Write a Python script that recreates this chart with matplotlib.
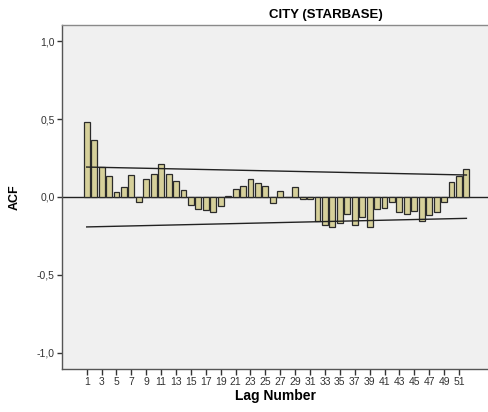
import matplotlib
matplotlib.use("Agg")
import matplotlib.pyplot as plt
from matplotlib.ticker import FuncFormatter

plt.rcParams["font.family"] = ["Liberation Sans", "DejaVu Sans"]

# autocorrelations per lag
lags = list(range(1, 53))
acf = [0.481, 0.365, 0.192, 0.132, 0.034, 0.062, 0.139, -0.030, 0.113, 0.150,
       0.209, 0.150, 0.105, 0.047, -0.049, -0.077, -0.081, -0.098, -0.060, 0.006,
       0.051, 0.068, 0.115, 0.090, 0.068, -0.038, 0.040, 0.002, 0.066, -0.015,
       -0.013, -0.156, -0.179, -0.190, -0.167, -0.111, -0.179, -0.126, -0.194, -0.077,
       -0.071, -0.034, -0.096, -0.107, -0.090, -0.154, -0.115, -0.098, -0.030, 0.098,
       0.135, 0.177]

# confidence limits at first and last lag
conf_lags = [1, 52]
upper_limit = [0.192, 0.141]
lower_limit = [-0.192, -0.137]

tick_lags = list(range(1, 52, 2))
y_ticks = [-1.0, -0.5, 0.0, 0.5, 1.0]

fig = plt.figure(figsize=(4.89, 4.12), dpi=100)
ax = fig.add_axes([62.5 / 489, 43 / 412, 425.5 / 489, 344.5 / 412])
ax.set_facecolor("#f0f0f0")

ax.bar(lags, acf, width=0.8, color="#d6d09a", edgecolor="#2b2b2b", linewidth=0.9, zorder=3)
ax.axhline(0, color="#222222", linewidth=1.0, zorder=2)
ax.plot(conf_lags, upper_limit, color="#222222", linewidth=1.0, zorder=4)
ax.plot(conf_lags, lower_limit, color="#222222", linewidth=1.0, zorder=4)

ax.set_xlim(-2.25, 54.9)
ax.set_ylim(-1.103, 1.106)
ax.set_xticks(tick_lags)
ax.set_xticklabels([str(v) for v in tick_lags], fontsize=7.5)
ax.set_yticks(y_ticks)
ax.yaxis.set_major_formatter(FuncFormatter(lambda v, p: f"{v:.1f}".replace(".", ",")))
ax.tick_params(axis="y", labelsize=7.5, length=3.5, width=1, pad=2, colors="#333333")
ax.tick_params(axis="x", length=4, width=1, pad=2, colors="#333333")

ax.spines["right"].set_visible(False)
ax.spines["top"].set_color("#8a8a8a")
ax.spines["left"].set_color("#555555")
ax.spines["bottom"].set_color("#555555")
for s in ["top", "left", "bottom"]:
    ax.spines[s].set_linewidth(1.0)

ax.set_xlabel("Lag Number", fontsize=10, fontweight="bold", labelpad=1)
ax.set_ylabel("ACF", fontsize=9, fontweight="bold", labelpad=12)
fig.text(326 / 489, 1 - 15 / 412, "CITY (STARBASE)", fontsize=9.5, fontweight="bold",
         ha="center", va="center")

fig.savefig("out.png", dpi=100, facecolor="white")
